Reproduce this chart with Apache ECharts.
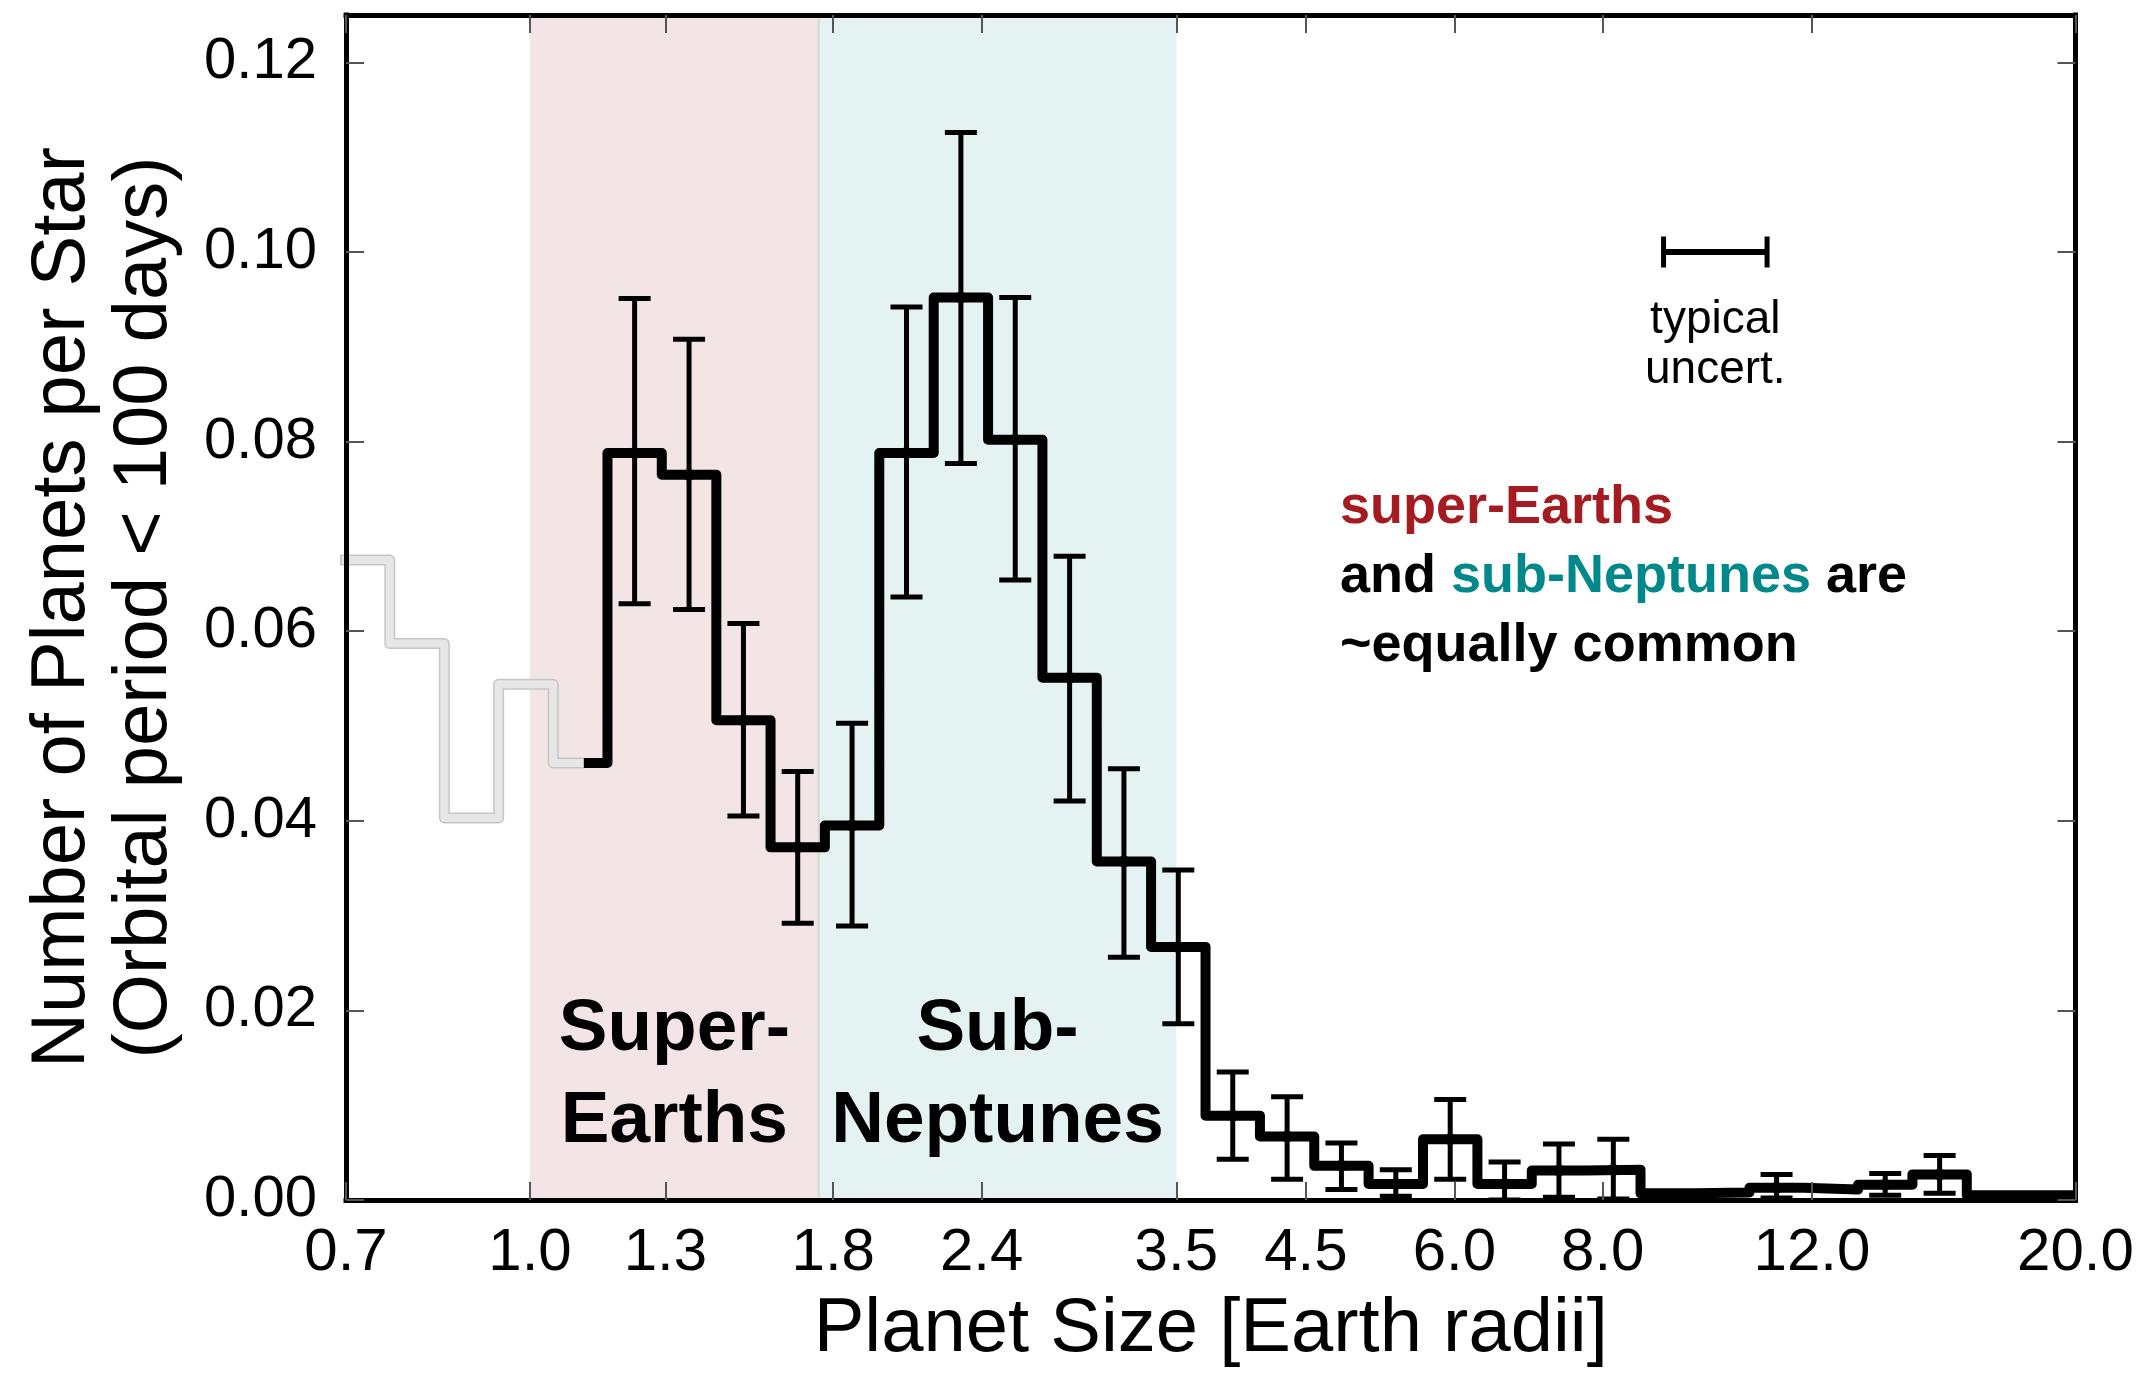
<!DOCTYPE html>
<html>
<head>
<meta charset="utf-8">
<title>Planet occurrence vs. size</title>
<script src="https://cdn.jsdelivr.net/npm/echarts@6/dist/echarts.min.js"></script>
<style>
  html, body { margin: 0; padding: 0; background: #fff; }
  #chart { width: 2150px; height: 1373px; }
</style>
</head>
<body>
<div id="chart"></div>
<script>
// Edges (Earth radii) of the log-uniform radius bins shown on the plot
const binEdges = [0.686, 0.762, 0.847, 0.941, 1.046, 1.162, 1.291, 1.435, 1.594, 1.771,
                  1.968, 2.187, 2.430, 2.700, 3.000, 3.333, 3.704, 4.116, 4.573, 5.081,
                  5.646, 6.274, 6.971, 7.746, 8.607, 9.563, 10.63, 11.81, 13.12, 14.58,
                  16.20, 18.00, 20.00];
// Planets per star (orbital period < 100 days) in each bin
const occurrence = [0.0675, 0.0587, 0.0403, 0.0544, 0.0461, 0.0788, 0.0765, 0.0506, 0.0372, 0.0395,
                    0.0788, 0.0952, 0.0802, 0.0551, 0.0357, 0.0267, 0.0089, 0.0067, 0.0036, 0.0017,
                    0.0064, 0.0017, 0.0031, 0.0032, 0.0007, 0.0008, 0.0013, 0.0011, 0.0016, 0.0027,
                    0.0005, 0.0005];
// Lower / upper end of each error bar (null: no bar drawn)
const errLow  = [null, null, null, null, null, 0.0629, 0.0623, 0.0405, 0.0292, 0.0289,
                 0.0636, 0.0777, 0.0654, 0.0421, 0.0256, 0.0186, 0.0043, 0.0022, 0.0011, 0.0004,
                 0.0022, 0.0000, 0.0003, 0.0001, null, null, 0.0002, null, 0.0005, 0.0007,
                 null, null];
const errHigh = [null, null, null, null, null, 0.0951, 0.0908, 0.0608, 0.0452, 0.0503,
                 0.0942, 0.1126, 0.0952, 0.0679, 0.0455, 0.0348, 0.0135, 0.0109, 0.0060, 0.0032,
                 0.0106, 0.0040, 0.0059, 0.0064, null, null, 0.0027, null, 0.0028, 0.0047,
                 null, null];
// Below this radius the sample is incomplete (drawn in grey)
const completeFrom = 1.11;

const xTicks = [0.7, 1.0, 1.3, 1.8, 2.4, 3.5, 4.5, 6.0, 8.0, 12.0, 20.0];
const yTicks = [0, 0.02, 0.04, 0.06, 0.08, 0.10, 0.12];

// Size classes shaded behind the histogram
const classNames  = ['Super-\nEarths', 'Sub-\nNeptunes'];
const classBounds = [[1.0, 1.75], [1.75, 3.5]];

// Typical radius uncertainty: [from, to, drawn at height]
const uncertBar = [9.0, 11.0, 0.100];

const X_MIN = 0.7, X_MAX = 20;
const FONT = '"Liberation Sans", Arial, Helvetica, sans-serif';
const classColors = ['#f3e4e5', '#e4f3f2'];

// Histogram outline between two radii as explicit step points
function stepPoints(lo, hi) {
  const pts = [];
  for (let i = 0; i < occurrence.length; i++) {
    const a = Math.max(binEdges[i], lo);
    const b = Math.min(binEdges[i + 1], hi);
    if (b <= a) continue;
    pts.push([a, occurrence[i]], [b, occurrence[i]]);
  }
  return pts;
}

const errData = [];
for (let i = 0; i < occurrence.length; i++) {
  if (errLow[i] == null) continue;
  const center = Math.sqrt(binEdges[i] * binEdges[i + 1]);
  errData.push([center, errLow[i], errHigh[i], occurrence[i]]);
}

const bandData = classBounds.map(b => [b[0], b[1], 0]);

// frame: every axis line stays on its own edge of the plot
const frameLine = { show: true, onZero: false, lineStyle: { color: '#000', width: 5, cap: 'square' } };
const tickStyle = { color: '#555', width: 2 };

const chart = echarts.init(document.getElementById('chart'), null, { renderer: 'canvas' });

chart.setOption({
  animation: false,
  backgroundColor: '#fff',
  grid: { left: 346, right: 74.5, top: 15, bottom: 169 },
  xAxis: [
    {
      type: 'log', logBase: 10, min: X_MIN, max: X_MAX, position: 'bottom', z: 6,
      axisLine: frameLine,
      axisTick: { show: true, inside: true, length: 18, customValues: xTicks, lineStyle: tickStyle },
      minorTick: { show: false },
      axisLabel: {
        customValues: xTicks, formatter: v => Number(v).toFixed(1),
        fontSize: 60, lineHeight: 60, color: '#000', fontFamily: FONT, margin: 23
      },
      splitLine: { show: false },
      name: 'Planet Size [Earth radii]', nameLocation: 'middle', nameGap: 92,
      nameTextStyle: { fontSize: 76, lineHeight: 76, color: '#000', fontFamily: FONT }
    },
    {
      type: 'log', logBase: 10, min: X_MIN, max: X_MAX, position: 'top', z: 6,
      axisLine: frameLine,
      axisTick: { show: true, inside: true, length: 18, customValues: xTicks, lineStyle: tickStyle },
      minorTick: { show: false },
      axisLabel: { show: false, customValues: xTicks },
      splitLine: { show: false }
    }
  ],
  yAxis: [
    {
      type: 'value', min: 0, max: 0.125, position: 'left', z: 6,
      axisLine: frameLine,
      axisTick: { show: true, inside: true, length: 18, customValues: yTicks, lineStyle: tickStyle },
      axisLabel: {
        customValues: yTicks, formatter: v => Number(v).toFixed(2),
        fontSize: 58, color: '#000', fontFamily: FONT, margin: 29, padding: [0, 0, 7, 0]
      },
      splitLine: { show: false },
      name: 'Number of Planets per Star\n(Orbital period < 100 days)',
      nameLocation: 'middle', nameGap: 160,
      nameTextStyle: { fontSize: 76, lineHeight: 82, color: '#000', fontFamily: FONT }
    },
    {
      type: 'value', min: 0, max: 0.125, position: 'right', z: 6,
      axisLine: frameLine,
      axisTick: { show: true, inside: true, length: 18, customValues: yTicks, lineStyle: tickStyle },
      axisLabel: { show: false, customValues: yTicks },
      splitLine: { show: false }
    }
  ],
  series: [
    {
      // shaded size classes with their names
      type: 'custom', name: 'size classes', z: 1, silent: true,
      data: bandData, encode: { x: [0, 1], y: 2 },
      renderItem(params, api) {
        const cs = params.coordSys;
        const i = params.dataIndex;
        const x0 = api.coord([api.value(0), 0])[0];
        const x1 = api.coord([api.value(1), 0])[0];
        const children = [
          { type: 'rect', shape: { x: x0, y: cs.y, width: x1 - x0, height: cs.height },
            style: { fill: classColors[i] } },
          { type: 'text',
            style: {
              text: classNames[i], x: (x0 + x1) / 2, y: cs.y + cs.height - 32,
              align: 'center', textAlign: 'center',
              verticalAlign: 'bottom', textVerticalAlign: 'bottom',
              font: 'bold 73px ' + FONT, lineHeight: 92, fill: '#000'
            } }
        ];
        if (i > 0) {
          children.push({ type: 'line', shape: { x1: x0, y1: cs.y, x2: x0, y2: cs.y + cs.height },
                          style: { stroke: '#d3d8d8', lineWidth: 2 } });
        }
        return { type: 'group', children };
      }
    },
    {
      type: 'line', name: 'incomplete (edge)', z: 2, silent: true,
      data: stepPoints(0, completeFrom), showSymbol: false, symbol: 'none',
      lineStyle: { color: '#c6c6c6', width: 11, join: 'round', cap: 'butt' }
    },
    {
      type: 'line', name: 'incomplete', z: 3, silent: true,
      data: stepPoints(0, completeFrom), showSymbol: false, symbol: 'none',
      lineStyle: { color: '#e6e6e6', width: 8, join: 'round', cap: 'butt' }
    },
    {
      type: 'line', name: 'occurrence', z: 4, silent: true,
      data: stepPoints(completeFrom, Infinity), showSymbol: false, symbol: 'none',
      lineStyle: { color: '#000', width: 10, join: 'round', cap: 'butt' }
    },
    {
      type: 'custom', name: 'uncertainty', z: 5, silent: true,
      data: errData, encode: { x: 0, y: [1, 2, 3] },
      renderItem(params, api) {
        const x = api.value(0);
        const lo = api.coord([x, api.value(1)]);
        const hi = api.coord([x, api.value(2)]);
        const mid = api.coord([x, api.value(3)]);
        const hw = 16;
        const st = { stroke: '#000', lineWidth: 5 };
        return {
          type: 'group',
          children: [
            { type: 'line', shape: { x1: lo[0], y1: lo[1], x2: hi[0], y2: hi[1] }, style: st },
            { type: 'line', shape: { x1: hi[0] - hw, y1: hi[1], x2: hi[0] + hw, y2: hi[1] }, style: st },
            { type: 'line', shape: { x1: lo[0] - hw, y1: lo[1], x2: lo[0] + hw, y2: lo[1] }, style: st },
            { type: 'circle', shape: { cx: mid[0], cy: mid[1], r: 6 }, style: { fill: '#000' } }
          ]
        };
      }
    },
    {
      type: 'custom', name: 'typical uncertainty', z: 5, silent: true,
      data: [uncertBar], encode: { x: [0, 1], y: 2 },
      renderItem(params, api) {
        const p0 = api.coord([api.value(0), api.value(2)]);
        const p1 = api.coord([api.value(1), api.value(2)]);
        const c = 15.5;
        const st = { stroke: '#000', lineWidth: 5 };
        return {
          type: 'group',
          children: [
            { type: 'line', shape: { x1: p0[0], y1: p0[1], x2: p1[0], y2: p1[1] }, style: { stroke: '#000', lineWidth: 6 } },
            { type: 'line', shape: { x1: p0[0], y1: p0[1] - c, x2: p0[0], y2: p0[1] + c }, style: st },
            { type: 'line', shape: { x1: p1[0], y1: p1[1] - c, x2: p1[0], y2: p1[1] + c }, style: st },
            { type: 'text',
              style: {
                text: 'typical\nuncert.', x: (p0[0] + p1[0]) / 2, y: p0[1] + 43,
                align: 'center', textAlign: 'center',
                verticalAlign: 'top', textVerticalAlign: 'top',
                font: '46px ' + FONT, lineHeight: 50, fill: '#000'
              } }
          ]
        };
      }
    }
  ],
  graphic: [
    {
      type: 'text', left: 1340, top: 481, z: 10, silent: true,
      style: {
        text: '{se|super-Earths}\n{k|and }{sn|sub-Neptunes}{k| are}\n{k|~equally common}',
        rich: {
          se: { fill: '#a41c21', fontSize: 54, fontWeight: 'bold', fontFamily: FONT, lineHeight: 69 },
          sn: { fill: '#00888a', fontSize: 54, fontWeight: 'bold', fontFamily: FONT, lineHeight: 69 },
          k:  { fill: '#000',    fontSize: 54, fontWeight: 'bold', fontFamily: FONT, lineHeight: 69 }
        }
      }
    }
  ]
});
</script>
</body>
</html>
